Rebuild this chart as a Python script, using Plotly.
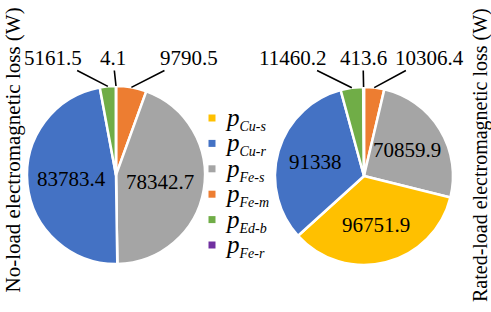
import math
import plotly.graph_objects as go

W, H = 491, 312

# ---- data ----
categories = ["Cu-s", "Cu-r", "Fe-s", "Fe-m", "Ed-b", "Fe-r"]
no_load = [0, 83783.4, 78342.7, 9790.5, 5161.5, 4.1]
rated_load = [96751.9, 91338, 70859.9, 10306.4, 11460.2, 413.6]
label_text_no = ["", "83783.4", "78342.7", "9790.5", "5161.5", "4.1"]
label_text_rated = ["96751.9", "91338", "70859.9", "10306.4", "11460.2", "413.6"]
draw_order = ["Fe-m", "Fe-s", "Cu-s", "Cu-r", "Ed-b", "Fe-r"]
left_title = "No-load electromagnetic loss (W)"
right_title = "Rated-load electromagnetic loss (W)"

# ---- style ----
colors = {"Cu-s": "#FFC000", "Cu-r": "#4472C4", "Fe-s": "#A5A5A5",
          "Fe-m": "#ED7D31", "Ed-b": "#70AD47", "Fe-r": "#7030A0"}
FONT = "Liberation Serif"
R = 89
pies = [
    dict(cx=116, cy=175, vals=no_load, texts=label_text_no, f=0.50,
         outside={"Ed-b": (53, 58), "Fe-r": (113, 58), "Fe-m": (189, 58)}),
    dict(cx=364, cy=176, vals=rated_load, texts=label_text_rated, f=0.57,
         outside={"Ed-b": (292, 58), "Fe-r": (363, 58), "Fe-m": (429, 58)}),
]

def px2paper(x, y):
    return x / W, 1 - y / H

fig = go.Figure()
annotations = []
shapes = []
for p in pies:
    idx = [categories.index(c) for c in draw_order]
    vals = [p["vals"][i] for i in idx]
    fig.add_trace(go.Pie(
        labels=draw_order, values=vals, sort=False, direction="clockwise",
        rotation=0, textinfo="none", hoverinfo="label+value",
        marker=dict(colors=[colors[c] for c in draw_order],
                    line=dict(color="white", width=2.5)),
        domain=dict(x=[(p["cx"] - R) / W, (p["cx"] + R) / W],
                    y=[1 - (p["cy"] + R) / H, 1 - (p["cy"] - R) / H]),
        showlegend=False,
    ))
    total = sum(vals)
    acc = 0
    for c, v in zip(draw_order, vals):
        a0 = acc / total * 360
        acc += v
        a1 = acc / total * 360
        if v == 0:
            continue
        mid = math.radians((a0 + a1) / 2)
        txt = p["texts"][categories.index(c)]
        if c in p["outside"]:
            tx, ty = p["cx"] + R * math.sin(mid), p["cy"] - R * math.cos(mid)
            lx, ly = p["outside"][c]
            x, y = px2paper(tx, ty)
            annotations.append(dict(
                x=x, y=y, xref="paper", yref="paper", text=txt,
                showarrow=True, arrowhead=0, arrowwidth=1.6, arrowcolor="black",
                ax=lx - tx, ay=ly - ty, standoff=0,
                font=dict(family=FONT, size=21, color="black"),
                borderpad=0))
        else:
            rr = R * p["f"]
            tx, ty = p["cx"] + rr * math.sin(mid), p["cy"] - rr * math.cos(mid)
            x, y = px2paper(tx, ty)
            annotations.append(dict(
                x=x, y=y, xref="paper", yref="paper", text=txt, showarrow=False,
                xanchor="center", yanchor="middle",
                font=dict(family=FONT, size=21, color="black")))

# legend (manual)
leg_x, leg_y0, leg_dy = 212, 118, 25.4
for k, c in enumerate(categories):
    yy = leg_y0 + k * leg_dy
    x0, y0 = px2paper(leg_x - 3.5, yy - 3.5)
    x1, y1 = px2paper(leg_x + 3.5, yy + 3.5)
    shapes.append(dict(type="rect", xref="paper", yref="paper",
                       x0=x0, x1=x1, y0=y1, y1=y0,
                       fillcolor=colors[c], line=dict(width=0)))
    ax_, ay_ = px2paper(leg_x + 11, yy + 1)
    annotations.append(dict(
        x=ax_, y=ay_, xref="paper", yref="paper", showarrow=False,
        xanchor="left", yanchor="middle",
        text='<i>p</i><sub><span style="font-size:14px"><i>%s</i></span></sub>' % c,
        font=dict(family=FONT, size=25, color="black")))

# vertical titles
x, y = px2paper(12.5, 150)
annotations.append(dict(x=x, y=y, xref="paper", yref="paper", text=left_title,
                        textangle=-90, showarrow=False,
                        xanchor="center", yanchor="middle",
                        font=dict(family=FONT, size=21, color="black")))
x, y = px2paper(480, 155)
annotations.append(dict(x=x, y=y, xref="paper", yref="paper", text=right_title,
                        textangle=-90, showarrow=False,
                        xanchor="center", yanchor="middle",
                        font=dict(family=FONT, size=20, color="black")))

fig.update_layout(width=W, height=H, margin=dict(l=0, r=0, t=0, b=0),
                  paper_bgcolor="white", plot_bgcolor="white",
                  font=dict(family=FONT),
                  annotations=annotations, shapes=shapes, showlegend=False)
fig.write_html("out.html", config={"displayModeBar": False},
               post_script="document.body.style.margin='0';document.body.style.overflow='hidden';")
